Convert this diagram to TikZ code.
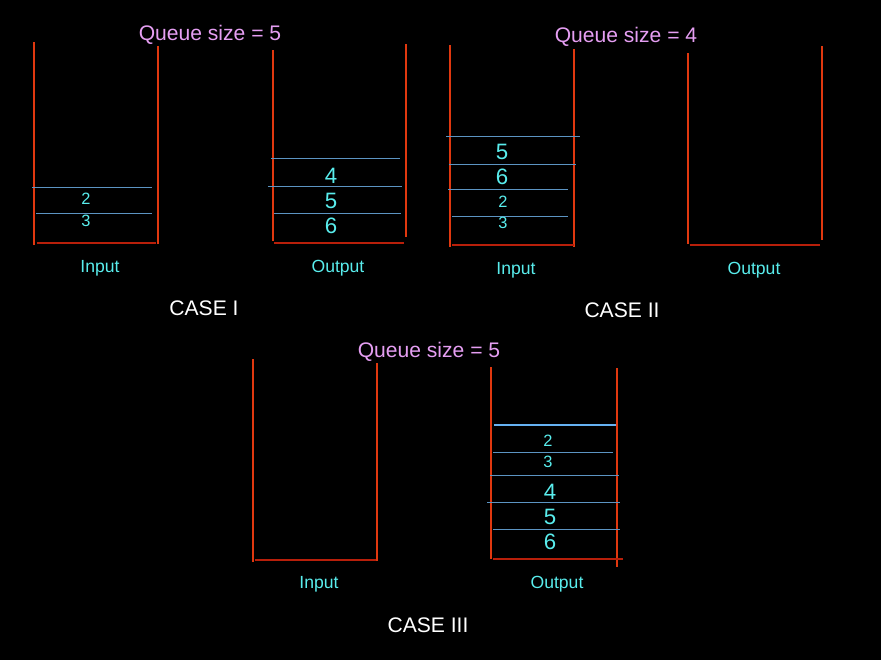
\documentclass[tikz,border=0pt]{standalone}
\usepackage{fontspec}
\setmainfont{Liberation Sans}
\definecolor{WallClr}{rgb}{0.88,0.22,0.06}
\definecolor{FloorClr}{rgb}{0.72,0.12,0.04}
\definecolor{SlotClr}{rgb}{0.36,0.58,0.76}
\definecolor{TopClr}{rgb}{0.40,0.70,0.95}
\definecolor{NumClr}{rgb}{0.35,0.93,0.93}
\definecolor{TitleClr}{rgb}{0.90,0.62,0.95}

\begin{document}
\begin{tikzpicture}[x=.3mm,y=-.3mm]
\tikzset{wall/.style={line width=1pt,color=WallClr},
  floor/.style={line width=1.4pt,color=FloorClr},
  slot/.style={line width=0.8pt,color=SlotClr},
  big/.style={text=NumClr,font=\fontsize{19}{20}\selectfont},
  small/.style={text=NumClr,font=\fontsize{14}{15}\selectfont},
  lbl/.style={text=NumClr,font=\fontsize{15}{16}\selectfont},
  title/.style={text=TitleClr,font=\fontsize{18}{20}\selectfont},
  case/.style={text=white,font=\fontsize{18}{20}\selectfont}}

% Φόντο.
\fill[black] (0,0) rectangle (881,660);

% Περίπτωση I.
\draw[wall] (34,42) -- (34,245);
\draw[wall] (158,46) -- (158,244);
\draw[floor] (37,243) -- (156,243);
\draw[wall] (273,50) -- (273,241);
\draw[wall] (406,44) -- (406,237);
\draw[floor] (274,243) -- (404,243);
\foreach \ya/\xa/\xb in {187/32/152,213/36/152,158/271/400,186/268/402,213/274/401}
  \draw[slot] (\xa,\ya) -- (\xb,\ya);
\node[small] (i2) at (86,199) {2};
\node[small] (i3) at (86,221) {3};
\node[big] (o4) at (331,176) {4};
\node[big] (o5) at (331,201) {5};
\node[big] (o6) at (331,226) {6};
\node[title] (q1) at (210,35) {Queue size = 5};
\node[lbl] (in1) at (100,268) {Input};
\node[lbl] (out1) at (338,268) {Output};
\node[case] (c1) at (204,308) {CASE I};

% Περίπτωση II.
\draw[wall] (450,45) -- (450,247);
\draw[wall] (574,49) -- (574,247);
\draw[floor] (452,245) -- (574,245);
\draw[wall] (688,53) -- (688,244);
\draw[wall] (822,46) -- (822,240);
\draw[floor] (690,245) -- (820,245);
\foreach \ya/\xa/\xb in {136/446/580,164/449/576,189/448/568,216/452/568}
  \draw[slot] (\xa,\ya) -- (\xb,\ya);
\node[big] (j5) at (502,152) {5};
\node[big] (j6) at (502,177) {6};
\node[small] (j2) at (503,202) {2};
\node[small] (j3) at (503,223) {3};
\node[title] (q2) at (626,37) {Queue size = 4};
\node[lbl] (in2) at (516,270) {Input};
\node[lbl] (out2) at (754,270) {Output};
\node[case] (c2) at (622,310) {CASE II};

% Περίπτωση III.
\draw[wall] (253,359) -- (253,562);
\draw[wall] (377,363) -- (377,561);
\draw[floor] (255,560) -- (376,560);
\draw[wall] (491,367) -- (491,559);
\draw[wall] (617,368) -- (617,567);
\draw[floor] (493,559) -- (623,559);
\draw[line width=2pt,color=TopClr] (494,425) -- (616,425);
\foreach \ya/\xa/\xb in {452/493/613,475/490/619,502/487/620,529/493/620}
  \draw[slot] (\xa,\ya) -- (\xb,\ya);
\node[small] (k2) at (548,441) {2};
\node[small] (k3) at (548,462) {3};
\node[big] (k4) at (550,492) {4};
\node[big] (k5) at (550,517) {5};
\node[big] (k6) at (550,542) {6};
\node[title] (q3) at (429,352) {Queue size = 5};
\node[lbl] (in3) at (319,584) {Input};
\node[lbl] (out3) at (557,584) {Output};
\node[case] (c3) at (428,625) {CASE III};

\end{tikzpicture}
\end{document}
